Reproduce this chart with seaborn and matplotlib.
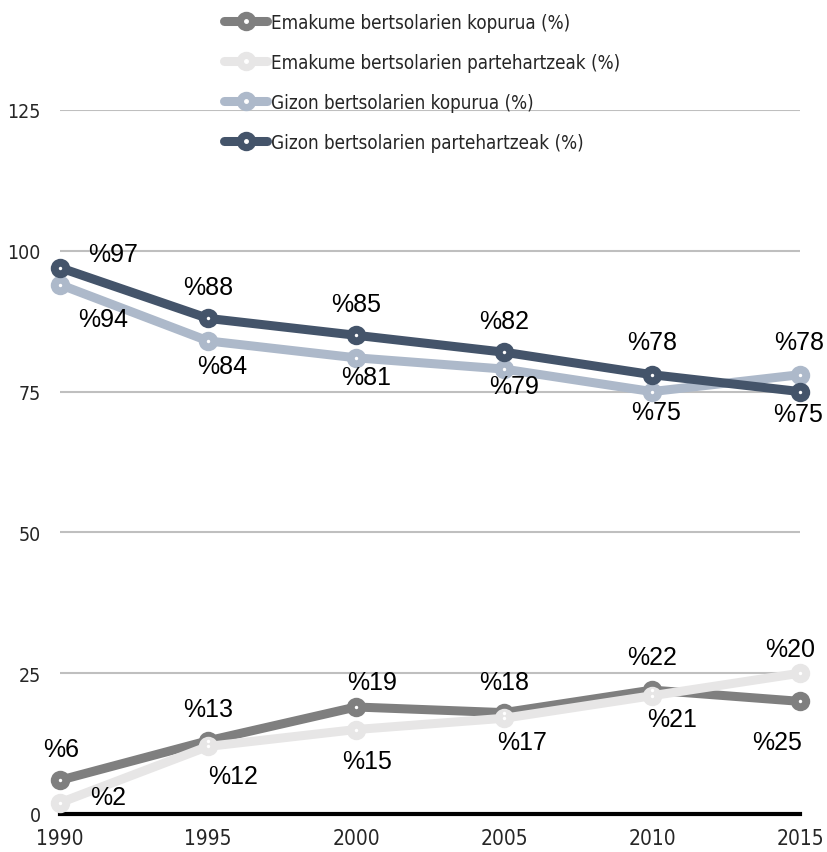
import pandas as pd
import seaborn as sns
import matplotlib.pyplot as plt
from matplotlib.lines import Line2D
from matplotlib.font_manager import FontProperties

# Data
years = [1990, 1995, 2000, 2005, 2010, 2015]
emakume_kopurua = [6, 13, 19, 18, 22, 20]
emakume_parte = [2, 12, 15, 17, 21, 25]
gizon_kopurua = [94, 84, 81, 79, 75, 78]
gizon_parte = [97, 88, 85, 82, 78, 75]

# labels as printed on the chart (2015 women labels are swapped in the source)
emakume_kopurua_lbl = [6, 13, 19, 18, 22, 20]
emakume_parte_lbl = [2, 12, 15, 17, 21, 25]
gizon_kopurua_lbl = [94, 84, 81, 79, 75, 78]
gizon_parte_lbl = [97, 88, 85, 82, 78, 75]

series = ["Emakume bertsolarien kopurua (%)",
          "Emakume bertsolarien partehartzeak (%)",
          "Gizon bertsolarien kopurua (%)",
          "Gizon bertsolarien partehartzeak (%)"]
colors = ["#7f7f7f", "#e7e6e6", "#adb9ca", "#44546a"]
values = [emakume_kopurua, emakume_parte, gizon_kopurua, gizon_parte]
labels = [emakume_kopurua_lbl, emakume_parte_lbl, gizon_kopurua_lbl, gizon_parte_lbl]

# label offsets in pixels (dx, dy, y up)
offsets = [
    [(1, 31), (0, 32), (16, 25), (0, 31), (0, 33), (-10, 52)],
    [(48, 6), (25, -30), (11, -31), (18, -24), (20, -23), (-23, -69)],
    [(43, -34), (14, -25), (10, -19), (10, -17), (4, -20), (-1, 33)],
    [(53, 14), (0, 31), (0, 31), (0, 31), (0, 33), (-2, -22)],
]

rows = []
for name, vals in zip(series, values):
    for y, v in zip(years, vals):
        rows.append({"year": y, "value": v, "series": name})
df = pd.DataFrame(rows)

sns.set_style("white")
plt.rcParams['font.family'] = ['Liberation Sans', 'DejaVu Sans']
narrow_tick = FontProperties(family="DejaVu Sans", stretch="condensed", size=15)
narrow_ytick = FontProperties(family="DejaVu Sans", stretch="condensed", size=14)
narrow_leg = FontProperties(family="DejaVu Sans", stretch="condensed", size=13.5)

fig = plt.figure(figsize=(8.28, 8.53), dpi=100)
ax = fig.add_axes([60 / 828, 1 - 815 / 853, 740 / 828, 704 / 853])

sns.lineplot(data=df, x="year", y="value", hue="series", hue_order=series,
             palette=colors, marker="o", markersize=14, markeredgewidth=0,
             linewidth=6.5, legend=False, ax=ax, clip_on=False, zorder=3)
sns.scatterplot(data=df, x="year", y="value", color="white", s=6,
                linewidth=0, legend=False, ax=ax, clip_on=False, zorder=4)

for name, vals, lbls, offs in zip(series, values, labels, offsets):
    for y, v, l, (dx, dy) in zip(years, vals, lbls, offs):
        ax.annotate(f"%{l}", (y, v), xytext=(dx, dy), textcoords="offset pixels",
                    ha="center", va="center", fontsize=18, color="black", zorder=5)

ax.set_xlim(1990, 2015)
ax.set_ylim(0, 125)
ax.set_xticks(years)
ax.set_yticks([0, 25, 50, 75, 100, 125])
ax.tick_params(axis="y", length=0, pad=14)
ax.tick_params(axis="x", length=0, pad=10)
for t in ax.get_xticklabels():
    t.set_fontproperties(narrow_tick)
for t in ax.get_yticklabels():
    t.set_fontproperties(narrow_ytick)
ax.set_xlabel("")
ax.set_ylabel("")
ax.grid(axis="y", color="#bfbfbf", linewidth=1.5)
ax.set_axisbelow(True)
for s in ["top", "right", "left"]:
    ax.spines[s].set_visible(False)
ax.spines["bottom"].set_color("black")
ax.spines["bottom"].set_linewidth(3)
ax.spines["bottom"].set_zorder(2)

handles = []
for c in colors:
    ln = Line2D([], [], color=c, linewidth=6.5, marker="o", markersize=14, markeredgewidth=0)
    dot = Line2D([], [], color="white", marker="o", markersize=2.5, linestyle="none")
    handles.append((ln, dot))
fig.legend(handles, series, loc="upper left", bbox_to_anchor=(224 / 828, 1 - 14 / 853),
           frameon=False, prop=narrow_leg,
           handlelength=2.3, handletextpad=0.2, labelspacing=1.12, borderpad=0,
           borderaxespad=0)

plt.savefig("out.png", dpi=100)
